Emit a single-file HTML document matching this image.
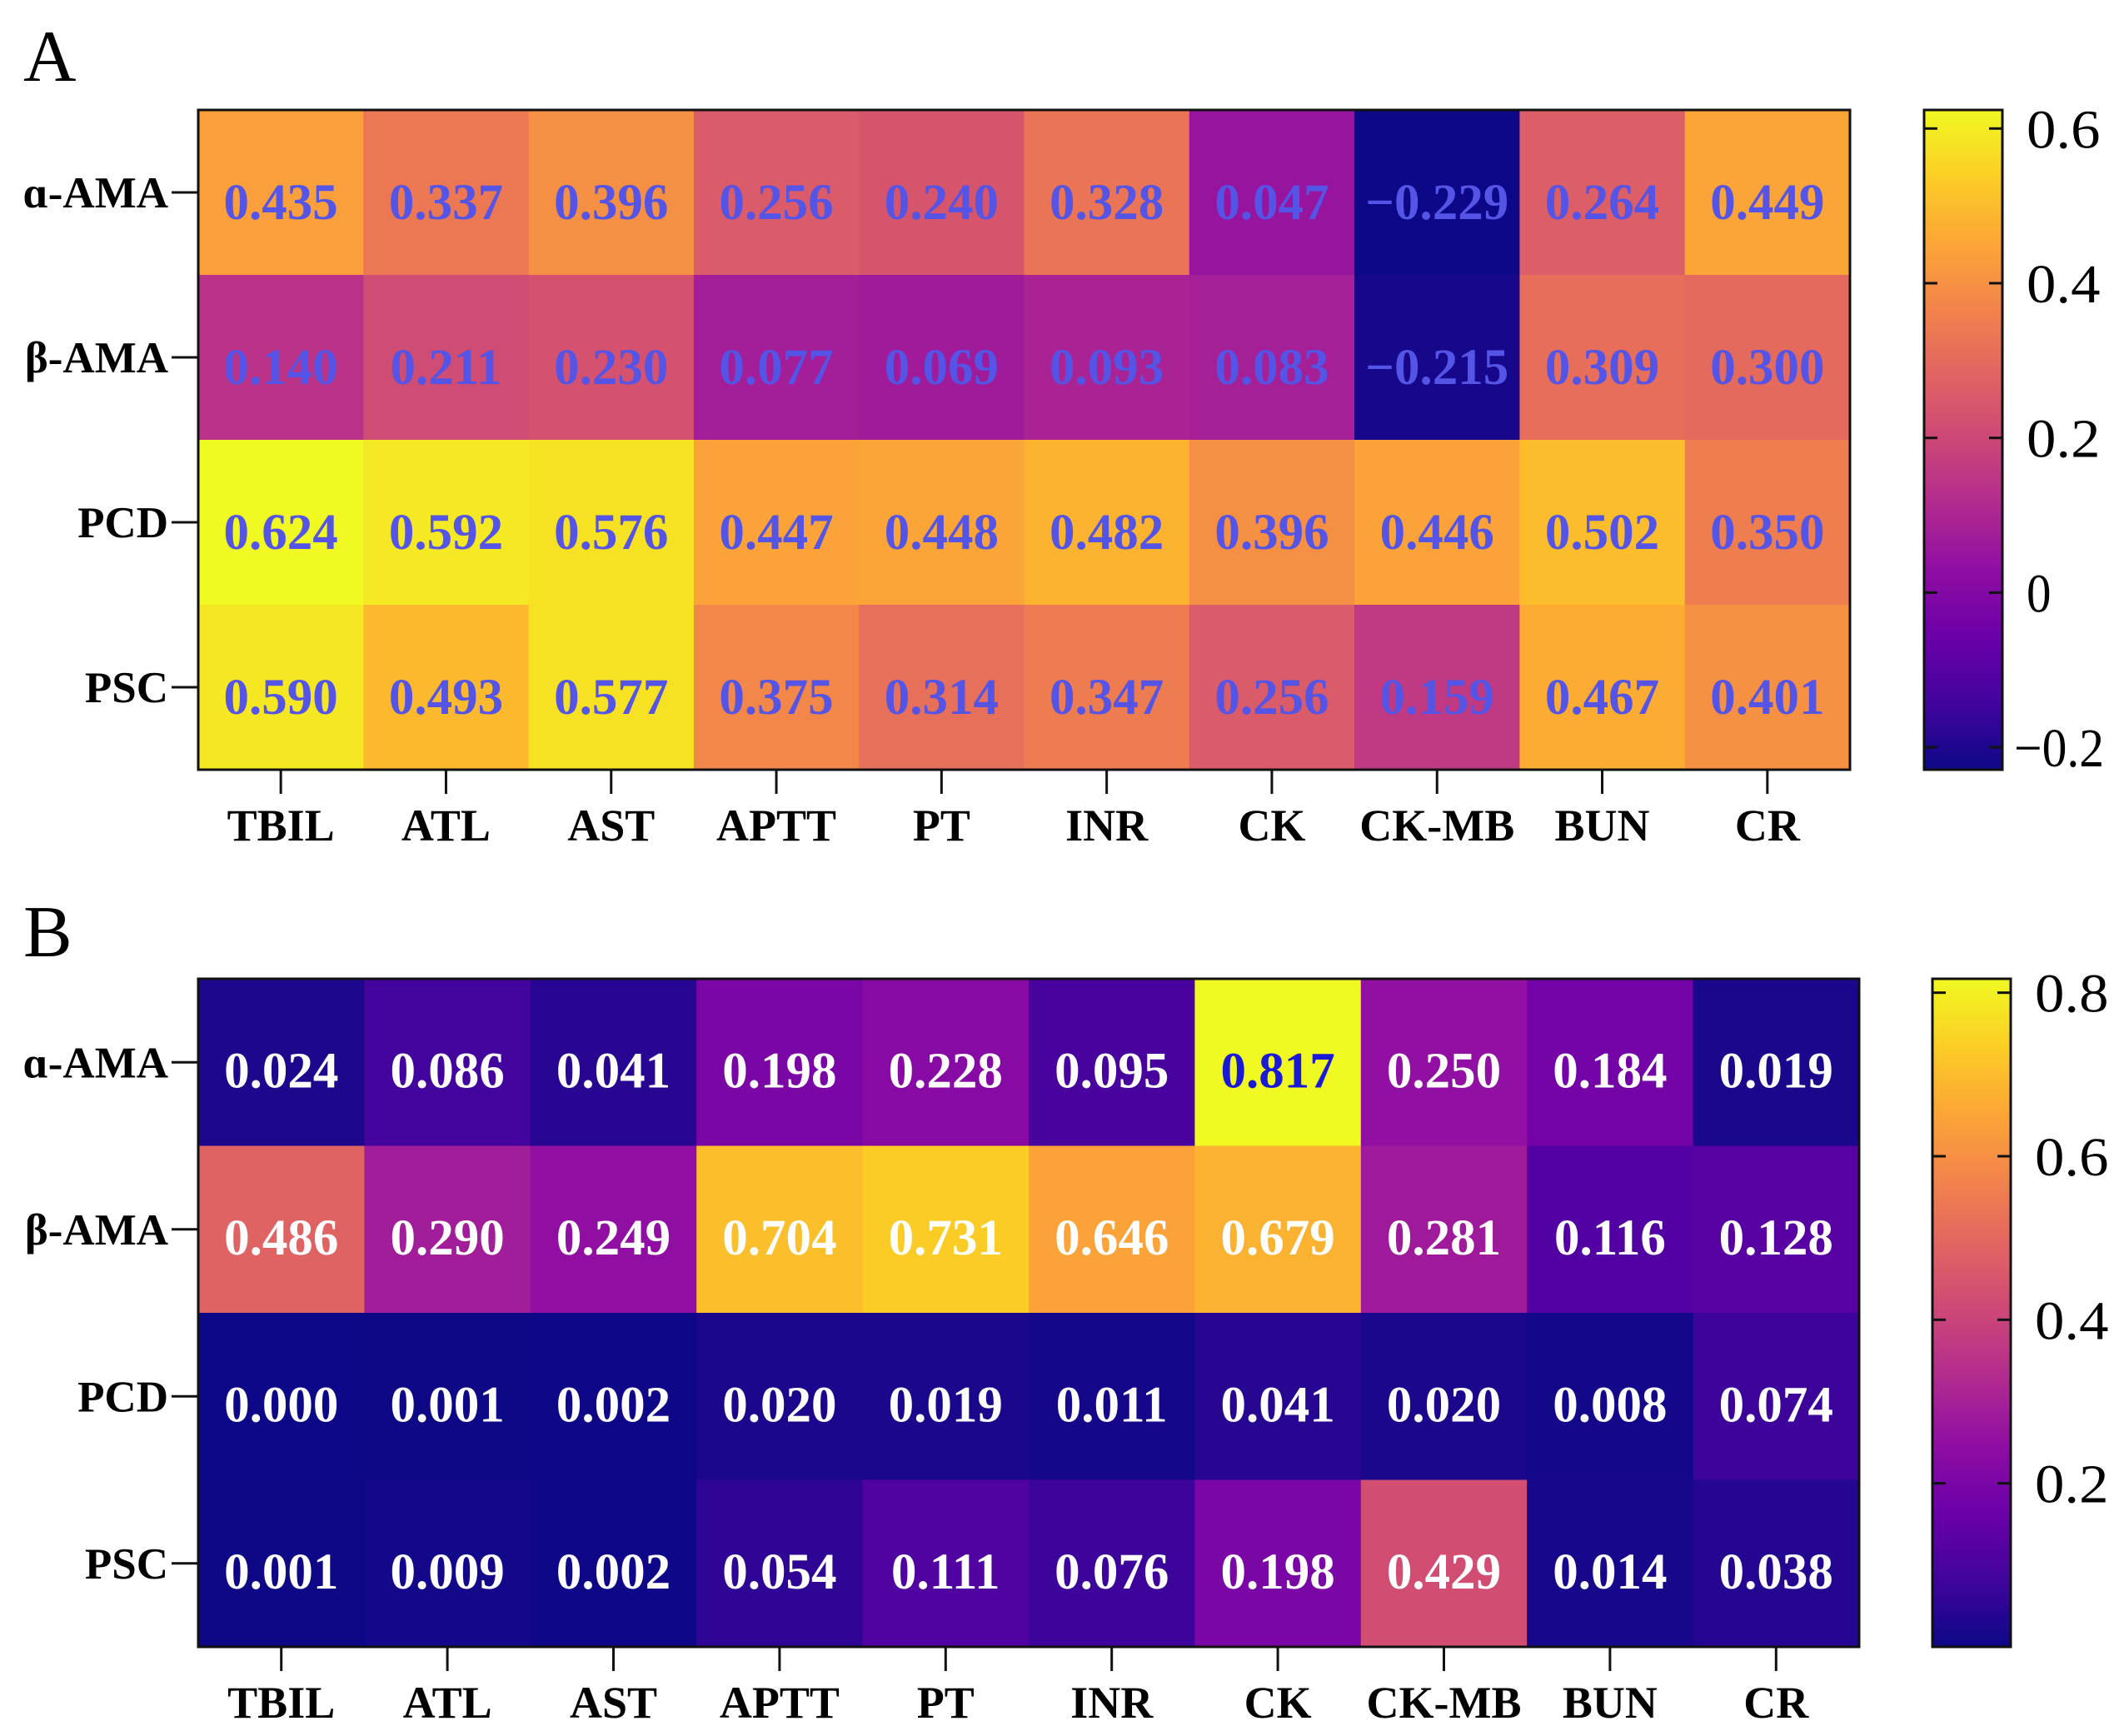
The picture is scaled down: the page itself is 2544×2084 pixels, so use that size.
<!DOCTYPE html>
<html><head><meta charset="utf-8"><style>
html,body{margin:0;padding:0;background:#fff;}
svg{display:block;font-family:"Liberation Serif",serif;}
</style></head><body>
<svg id="fig" width="2544" height="2084" viewBox="0 0 2544 2084" xmlns="http://www.w3.org/2000/svg">
<defs>
<linearGradient id="plasmaV" x1="0" y1="1" x2="0" y2="0"></linearGradient>
</defs>
<text x="28" y="97" font-size="88">A</text>
<text x="28" y="1148" font-size="88">B</text>
<g id="panelA"></g>
<g id="panelB"></g>
</svg>
<script>
const rowLabels = ["\u0251-AMA","\u03b2-AMA","PCD","PSC"];
const colLabels = ["TBIL","ATL","AST","APTT","PT","INR","CK","CK-MB","BUN","CR"];
const valuesA = [
 [0.435,0.337,0.396,0.256,0.240,0.328,0.047,-0.229,0.264,0.449],
 [0.140,0.211,0.230,0.077,0.069,0.093,0.083,-0.215,0.309,0.300],
 [0.624,0.592,0.576,0.447,0.448,0.482,0.396,0.446,0.502,0.350],
 [0.590,0.493,0.577,0.375,0.314,0.347,0.256,0.159,0.467,0.401]
];
const valuesB = [
 [0.024,0.086,0.041,0.198,0.228,0.095,0.817,0.250,0.184,0.019],
 [0.486,0.290,0.249,0.704,0.731,0.646,0.679,0.281,0.116,0.128],
 [0.000,0.001,0.002,0.020,0.019,0.011,0.041,0.020,0.008,0.074],
 [0.001,0.009,0.002,0.054,0.111,0.076,0.198,0.429,0.014,0.038]
];
const ticksA = [0.6,0.4,0.2,0,-0.2];
const tickLabelsA = ["0.6","0.4","0.2","0","\u22120.2"];
const ticksB = [0.8,0.6,0.4,0.2];
const tickLabelsB = ["0.8","0.6","0.4","0.2"];

const NS="http://www.w3.org/2000/svg";
const plasma=["#0d0887","#41049d","#6a00a8","#8f0da4","#b12a90","#cc4778","#e16462","#f2844b","#fca636","#fcce25","#f0f921"];
function hex(h){return [parseInt(h.slice(1,3),16),parseInt(h.slice(3,5),16),parseInt(h.slice(5,7),16)];}
function cmap(t){t=Math.max(0,Math.min(1,t));const s=t*10,i=Math.min(9,Math.floor(s)),f=s-i;const a=hex(plasma[i]),b=hex(plasma[i+1]);
 return "rgb("+a.map((v,k)=>Math.round(v+(b[k]-v)*f)).join(",")+")";}
function el(tag,attrs,parent){const e=document.createElementNS(NS,tag);for(const k in attrs)e.setAttribute(k,attrs[k]);parent.appendChild(e);return e;}
const grad=document.getElementById('plasmaV');
plasma.forEach((c,i)=>el('stop',{offset:(i*10)+'%','stop-color':c},grad));

function drawPanel(g,vals,o){
 const vmin=Math.min(...vals.flat()),vmax=Math.max(...vals.flat());
 const cw=(o.x1-o.x0)/colLabels.length,rh=(o.y1-o.y0)/rowLabels.length;
 const xS=j=>o.x0+j*cw, yS=i=>o.y0+i*rh;
 vals.forEach((row,i)=>row.forEach((v,j)=>{
  const r=el('rect',{x:xS(j),y:yS(i),width:cw+0.5,height:rh+0.5,fill:cmap((v-vmin)/(vmax-vmin))},g);
  
  
  const t=el('text',{x:xS(j)+cw/2,y:yS(i)+rh/2+o.textDy,'font-size':61,'font-weight':'bold','text-anchor':'middle',fill:o.textColor(v,vmax)},g);
  t.textContent=v<0?"\u2212"+Math.abs(v).toFixed(3):v.toFixed(3);
  
  
 }));
 el('rect',{x:o.x0,y:o.y0,width:o.x1-o.x0,height:o.y1-o.y0,fill:'none',stroke:'#111','stroke-width':3},g);
 rowLabels.forEach((lab,i)=>{
  const cy=yS(i)+rh/2;
  el('line',{x1:o.x0-32,x2:o.x0,y1:cy,y2:cy,stroke:'#111','stroke-width':3},g);
  const t=el('text',{x:o.x0-36,y:cy+18,'font-size':53,'font-weight':'bold','text-anchor':'end'},g);
  t.textContent=lab;
  
  
 });
 colLabels.forEach((lab,j)=>{
  const cx=xS(j)+cw/2;
  el('line',{x1:cx,x2:cx,y1:o.y1,y2:o.y1+29,stroke:'#111','stroke-width':3},g);
  const t=el('text',{x:cx,y:o.y1+85,'font-size':54,'font-weight':'bold','text-anchor':'middle'},g);
  t.textContent=lab;
  
  
 });
 const cb=el('g',{},g);
 
 
 el('rect',{x:o.cbx,y:o.y0,width:o.cbw,height:o.y1-o.y0,fill:'url(#plasmaV)',stroke:'#111','stroke-width':3},cb);
 const cbY=v=>o.y1-(v-vmin)/(vmax-vmin)*(o.y1-o.y0);
 o.ticks.forEach((v,k)=>{
  const y=cbY(v);
  el('line',{x1:o.cbx,x2:o.cbx+16,y1:y,y2:y,stroke:'#111','stroke-width':3},cb);
  el('line',{x1:o.cbx+o.cbw-16,x2:o.cbx+o.cbw,y1:y,y2:y,stroke:'#111','stroke-width':3},cb);
  const lab=o.tickLabels[k];
  const neg=lab[0]==="\u2212";
  const t=el('text',{x:o.cbx+o.cbw+(neg?14:29),y:y+23,'font-size':66,textLength:(neg?108:lab.length*29.5),lengthAdjust:'spacingAndGlyphs'},cb);
  t.textContent=lab;
  
  
 });
}
drawPanel(document.getElementById('panelA'),valuesA,{x0:238,x1:2221,y0:132,y1:924,cbx:2310,cbw:94,ticks:ticksA,tickLabels:tickLabelsA,textDy:32,textColor:()=>'#5454e6'});
drawPanel(document.getElementById('panelB'),valuesB,{x0:238,x1:2232,y0:1175,y1:1977,cbx:2320,cbw:94,ticks:ticksB,tickLabels:tickLabelsB,textDy:30,textColor:(v,m)=>v===m?'#1a1ad6':'#ffffff'});
</script>
</body></html>
